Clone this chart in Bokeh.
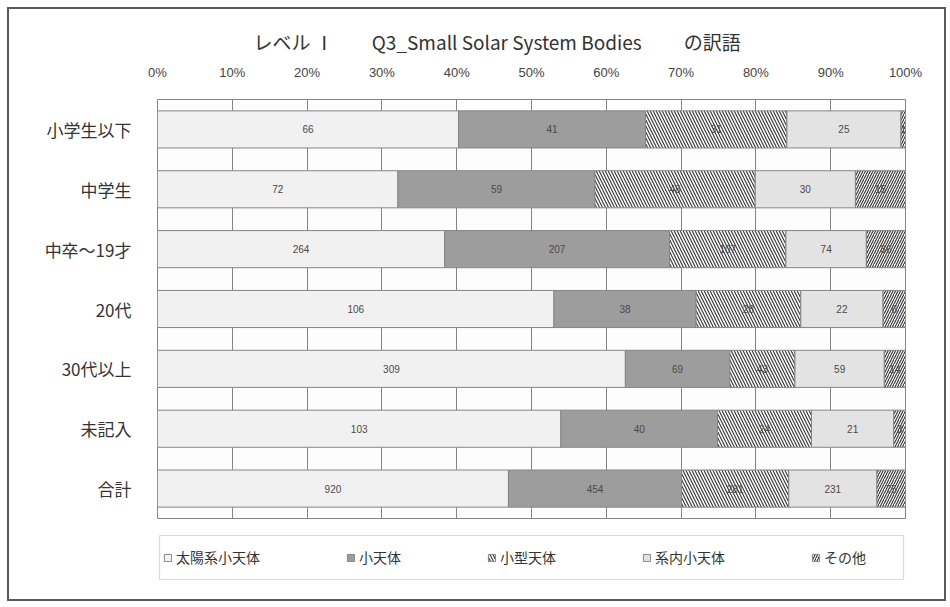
from bokeh.plotting import figure
from bokeh.layouts import column
from bokeh.models import (ColumnDataSource, Range1d, FixedTicker, NumeralTickFormatter,
                          Legend, LegendItem, BoxAnnotation)
from bokeh.core.properties import value
from bokeh.embed import file_html
from bokeh.resources import INLINE

# Respondent groups (top to bottom) and answer categories (left to right)
groups = ["小学生以下", "中学生", "中卒～19才", "20代", "30代以上", "未記入", "合計"]
series = ["太陽系小天体", "小天体", "小型天体", "系内小天体", "その他"]

# Answer counts per group
taiyoukei_shotentai = [66, 72, 264, 106, 309, 103, 920]
shotentai = [41, 59, 207, 38, 69, 40, 454]
kogata_tentai = [31, 48, 107, 28, 43, 24, 281]
keinai_shotentai = [25, 30, 74, 22, 59, 21, 231]
sonota = [1, 15, 36, 6, 14, 3, 75]

x_ticks = [0.0, 0.1, 0.2, 0.3, 0.4, 0.5, 0.6, 0.7, 0.8, 0.9, 1.0]

counts = [taiyoukei_shotentai, shotentai, kogata_tentai, keinai_shotentai, sonota]
totals = [sum(col) for col in zip(*counts)]
rows = list(range(len(groups)))

# Fill / hatch style for each answer category
seg_styles = [
    dict(fill_color="#f1f1f1"),
    dict(fill_color="#9d9d9d"),
    dict(fill_color="#fbfbfb", hatch_pattern="left_diagonal_line", hatch_scale=6,
         hatch_weight=1.1, hatch_color="#333333"),
    dict(fill_color="#e3e3e3"),
    dict(fill_color="#fbfbfb", hatch_pattern="right_diagonal_line", hatch_scale=5,
         hatch_weight=1.1, hatch_color="#333333"),
]
BAR_LINE = dict(line_color="#858585", line_width=1)

# ---- main chart -------------------------------------------------------------
p = figure(width=935, height=511, x_range=Range1d(0, 1), y_range=Range1d(6.5, -0.5),
           x_axis_location="above", output_backend="svg", toolbar_location=None,
           min_border_left=148, min_border_right=39, min_border_top=90,
           min_border_bottom=2,
           background_fill_color="#fdfdfd", border_fill_color="#ffffff")

p.title.text = "レベル Ⅰ　　Q3_Small Solar System Bodies　　 の訳語"
p.title.align = "left"
p.title.offset = 96
p.title.text_font = "Noto Sans CJK JP"
p.title.text_font_size = "19px"
p.title.text_font_style = "normal"
p.title.text_color = "#333333"
p.title.standoff = 14

p.outline_line_color = "#858585"
p.outline_line_width = 1

# Percent axis on top
xa = p.xaxis[0]
xa.ticker = FixedTicker(ticks=x_ticks)
xa.formatter = NumeralTickFormatter(format="0%")
xa.axis_line_color = None
xa.major_tick_line_color = None
xa.minor_tick_line_color = None
xa.major_label_standoff = 14
xa.major_label_text_font = "Liberation Sans"
xa.major_label_text_font_size = "13px"
xa.major_label_text_color = "#444444"

# Group axis on the left
ya = p.yaxis[0]
ya.ticker = FixedTicker(ticks=rows)
ya.major_label_overrides = {r: g for r, g in zip(rows, groups)}
ya.axis_line_color = None
ya.major_tick_line_color = None
ya.minor_tick_line_color = None
ya.major_label_standoff = 20
ya.major_label_text_font = "Noto Sans CJK JP"
ya.major_label_text_font_size = "17px"
ya.major_label_text_color = "#333333"

p.xgrid.ticker = FixedTicker(ticks=x_ticks)
p.xgrid.grid_line_color = "#858585"
p.xgrid.grid_line_width = 1
p.ygrid.grid_line_color = None

cum = [0.0] * len(groups)
for name, vals, st in zip(series, counts, seg_styles):
    left = [c for c in cum]
    right = [c + v / t for c, v, t in zip(cum, vals, totals)]
    cum = right
    src = ColumnDataSource(dict(
        y=rows, left=left, right=right,
        mid=[(a + b) / 2 for a, b in zip(left, right)],
        label=[str(v) for v in vals],
    ))
    p.hbar(y="y", left="left", right="right", height=0.62, source=src,
           **BAR_LINE, **st)
    p.text(x="mid", y="y", text="label", source=src, text_align="center",
           text_baseline="middle", text_font=value("Liberation Sans"),
           text_font_size="10px", text_color="#4a4a4a")

# ---- legend strip ---------------------------------------------------------
lp = figure(width=935, height=79, x_range=Range1d(0, 1), y_range=Range1d(0, 1),
            x_axis_type=None, y_axis_type=None, output_backend="svg",
            toolbar_location=None, min_border=0, outline_line_color=None,
            background_fill_color="#ffffff", border_fill_color="#ffffff")
lp.grid.visible = False

# swatch renderers for the legend; their single bar lies outside the visible range
items = []
for name, st in zip(series, seg_styles):
    r = lp.hbar(y=[-5], left=[0], right=[1], height=0.6, **BAR_LINE, **st)
    items.append(LegendItem(label=name, renderers=[r]))

legend = Legend(items=items, orientation="horizontal", location=(6, 32),
                spacing=86, padding=12, margin=0, glyph_width=9, glyph_height=9,
                label_standoff=4, label_text_font="Noto Sans CJK JP",
                label_text_font_size="14px", label_text_color="#333333",
                border_line_color=None, background_fill_color=None)
lp.add_layout(legend, "center")
lp.add_layout(BoxAnnotation(left=150, right=894, top=15, bottom=59,
                            left_units="canvas", right_units="canvas",
                            top_units="canvas", bottom_units="canvas",
                            fill_color=None, line_color="#858585", line_width=1.2,
                            level="overlay"))

layout = column(p, lp, spacing=0, margin=(7, 0, 0, 7),
                styles={"border": "2px solid #5a5a5a"})

open("out.html", "w").write(file_html(layout, INLINE))
